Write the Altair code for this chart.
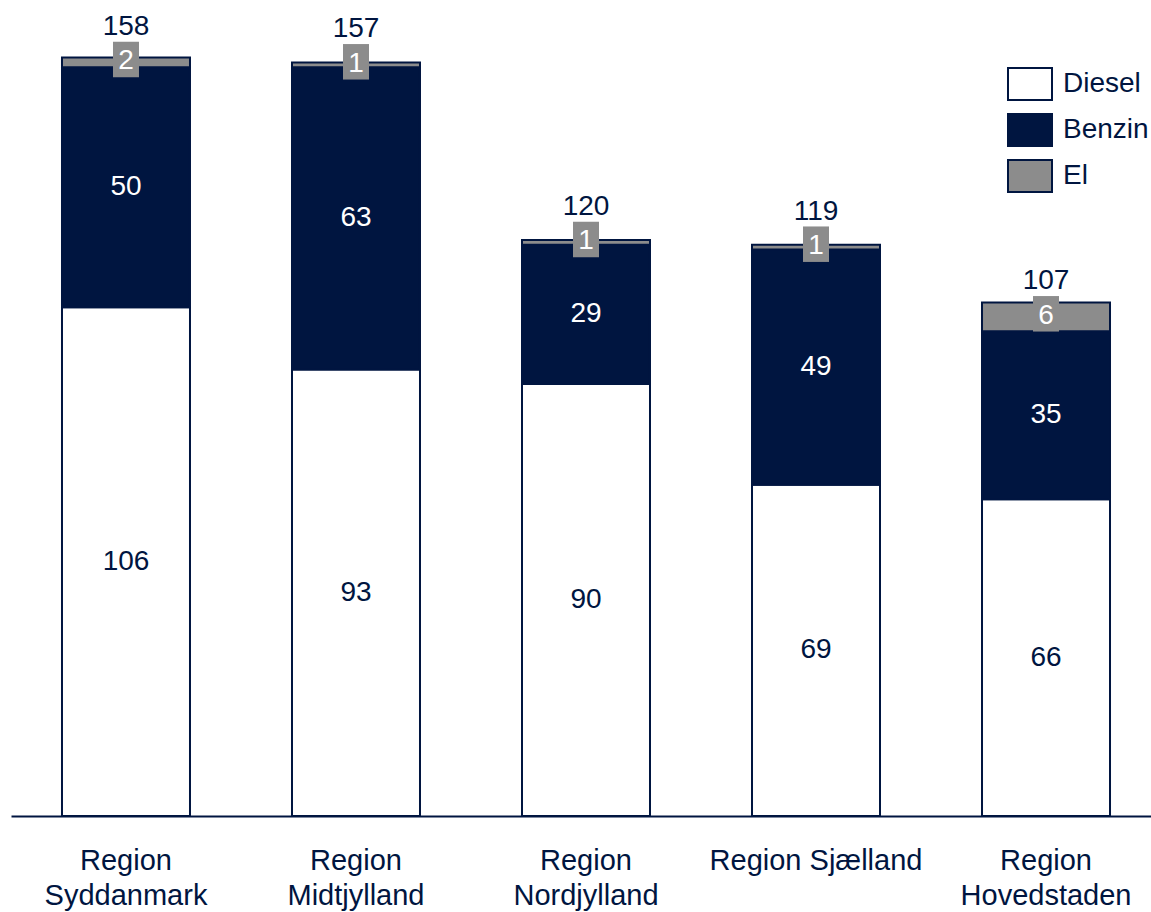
import altair as alt
import pandas as pd

regions = ["Region|Syddanmark", "Region|Midtjylland", "Region|Nordjylland",
           "Region Sjælland", "Region|Hovedstaden"]
series = ["Diesel", "Benzin", "El"]
diesel = [106, 93, 90, 69, 66]
benzin = [50, 63, 29, 49, 35]
el = [2, 1, 1, 1, 6]

NAVY = "#001540"
GRAY = "#8C8C8C"
FONT = "Liberation Sans"

rows = []
for i, r in enumerate(regions):
    start = 0
    total = diesel[i] + benzin[i] + el[i]
    for k, (s, vals) in enumerate(zip(series, [diesel, benzin, el])):
        v = vals[i]
        rows.append({"region": r, "series": s, "value": v, "start": start,
                     "end": start + v, "mid": start + v / 2, "order": k, "total": total})
        start += v
seg = pd.DataFrame(rows)

xscale = alt.Scale(domain=regions, range=[0, 1150], paddingInner=0.4435, paddingOuter=0.2217)
yscale = alt.Scale(domain=[0, 170], nice=False, zero=True)

xenc = alt.X("region:N", scale=xscale, sort=regions, title=None,
             axis=alt.Axis(labelExpr="split(datum.label, '|')", labelAngle=0,
                           labelFontSize=29, labelFont=FONT, labelColor=NAVY,
                           labelLineHeight=35, labelPadding=30, labelLimit=400,
                           labelOverlap=False, ticks=False, tickSize=0,
                           domainColor=NAVY, domainWidth=2, grid=False))

BOX = "M-1,-1.365L1,-1.365L1,1.365L-1,1.365Z"
LEGSYM = "M-1,-0.727L1,-0.727L1,0.727L-1,0.727Z"

bars = alt.Chart(seg).mark_bar(stroke=NAVY, strokeWidth=2, opacity=1).encode(
    x=xenc,
    y=alt.Y("start:Q", scale=yscale, axis=None),
    y2="end:Q",
    color=alt.Color("series:N",
                    scale=alt.Scale(domain=series, range=["#FFFFFF", NAVY, GRAY]),
                    legend=alt.Legend(title=None, orient="none", legendX=996, legendY=61,
                                      symbolType=LEGSYM, symbolSize=1936,
                                      symbolStrokeColor=NAVY, symbolStrokeWidth=2,
                                      symbolOpacity=1, labelFontSize=28, labelFont=FONT,
                                      labelColor=NAVY, rowPadding=3, labelOffset=10,
                                      padding=0)),
    order=alt.Order("order:Q"),
)

seg_text = alt.Chart(seg).transform_filter("datum.series != 'El'").mark_text(
    font=FONT, fontSize=28, baseline="middle", align="center").encode(
    x=alt.X("region:N", scale=xscale, sort=regions),
    y=alt.Y("mid:Q", scale=yscale),
    text=alt.Text("value:Q"),
    color=alt.condition("datum.series == 'Diesel'", alt.value(NAVY), alt.value("#FFFFFF")),
)

el_box = alt.Chart(seg).transform_filter("datum.series == 'El'").mark_point(
    shape=BOX, size=676, filled=True, color=GRAY, opacity=1, strokeWidth=0, yOffset=-3).encode(
    x=alt.X("region:N", scale=xscale, sort=regions),
    y=alt.Y("mid:Q", scale=yscale),
)

el_text = alt.Chart(seg).transform_filter("datum.series == 'El'").mark_text(
    font=FONT, fontSize=28, baseline="middle", align="center", color="#FFFFFF", dy=-1).encode(
    x=alt.X("region:N", scale=xscale, sort=regions),
    y=alt.Y("mid:Q", scale=yscale),
    text=alt.Text("value:Q"),
)

tot_text = alt.Chart(seg).transform_filter("datum.series == 'El'").mark_text(
    font=FONT, fontSize=28, baseline="middle", align="center", color=NAVY, dy=-35.5).encode(
    x=alt.X("region:N", scale=xscale, sort=regions),
    y=alt.Y("mid:Q", scale=yscale),
    text=alt.Text("total:Q"),
)

chart = alt.layer(bars, seg_text, el_box, el_text, tot_text).properties(
    width=1140, height=816,
    autosize=alt.AutoSizeParams(type="none"),
    padding={"left": 11, "top": 0, "right": 0, "bottom": 96},
    background="#FFFFFF",
).configure_view(stroke=None)

chart.save("out.html", embed_options={"renderer": "svg", "actions": False})
